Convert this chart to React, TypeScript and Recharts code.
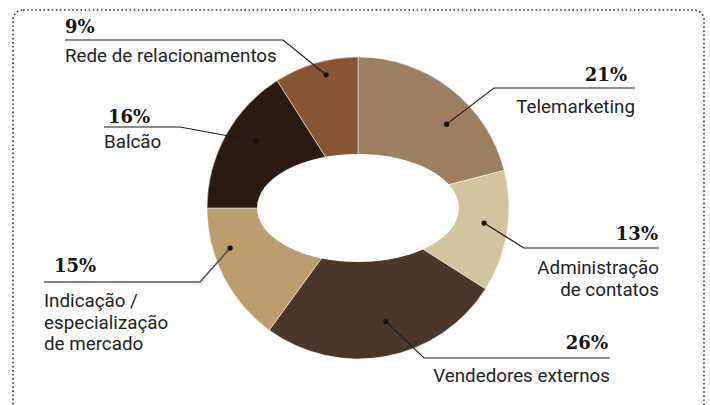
import { Cell, Pie, PieChart } from 'recharts'

const categories = [
  'Telemarketing',
  'Administração\nde contatos',
  'Vendedores externos',
  'Indicação /\nespecialização\nde mercado',
  'Balcão',
  'Rede de relacionamentos',
]
const shares = [21, 13, 26, 15, 16, 9]

const colors = ['#9d7e5f', '#d2c59d', '#4b3729', '#bc9d6d', '#2b1a0f', '#885632']

const data = categories.map((name, i) => ({ name, value: shares[i] }))

const CX = 358
const CY = 208
const OUTER = 151
const HOLE_RX = 101
const HOLE_RY = 54

// callout layout per slice: dot offset from mid angle, elbow, underline, text baselines
const callouts = [
  { shift: 8.8, r: 122, side: 'right', ex: 494, ly: 88, end: 635, px: 627, py: 81, ty: 113 },
  { shift: -2.2, r: 127, side: 'right', ex: 524, ly: 248, end: 659, px: 658, py: 240, ty: 274 },
  { shift: -3, r: 117, side: 'right', ex: 424, ly: 358, end: 610, px: 608, py: 349, ty: 382 },
  { shift: 9.6, r: 134, side: 'left', ex: 200, ly: 282, end: 44, px: 54, py: 272, ty: 307 },
  { shift: 4.5, r: 122, side: 'left', ex: 180, ly: 127, end: 104, px: 108, py: 123, ty: 148 },
  { shift: 2.7, r: 137, side: 'left', ex: 283, ly: 40, end: 65, px: 65, py: 33, ty: 62 },
]

const RAD = Math.PI / 180

const renderCallout = (props: any) => {
  const { cx, cy, midAngle, index, name, value } = props
  const c = callouts[index]
  const fromTop = (90 - midAngle + c.shift) * RAD
  const dx = cx + c.r * Math.sin(fromTop)
  const dy = cy - c.r * Math.cos(fromTop)
  const anchor = c.side === 'right' ? 'end' : 'start'
  const lines = String(name).split('\n')
  return (
    <g>
      <polyline
        points={`${dx},${dy} ${c.ex},${c.ly} ${c.end},${c.ly}`}
        fill='none'
        stroke={index === 3 ? '#555' : '#1a1a1a'}
        strokeWidth={index === 3 ? 1.6 : 1.1}
      />
      <circle cx={dx} cy={dy} r={2.6} fill='#111' />
      <text
        x={c.px}
        y={c.py}
        textAnchor={anchor}
        fontFamily='"DejaVu Serif", serif'
        fontWeight={700}
        fontSize={18}
        fill='#151515'
      >
        {value}%
      </text>
      {lines.map((line, i) => (
        <text
          key={i}
          x={c.end}
          y={c.ty + i * 21.5}
          textAnchor={anchor}
          fontFamily='Roboto, sans-serif'
          fontSize={18.8}
          fill='#222'
        >
          {line}
        </text>
      ))}
    </g>
  )
}

export default function App() {
  return (
    <div style={{ position: 'absolute', left: 0, top: 0, width: 710, height: 405, background: '#fff' }}>
      <PieChart width={710} height={405} margin={{ top: 0, right: 0, bottom: 0, left: 0 }}>
        <Pie
          data={data}
          dataKey='value'
          nameKey='name'
          cx={CX}
          cy={CY}
          innerRadius={0}
          outerRadius={OUTER}
          startAngle={90}
          endAngle={-270}
          stroke='#fff'
          strokeWidth={0.5}
          label={renderCallout}
          labelLine={false}
          isAnimationActive={false}
        >
          {data.map((d, i) => (
            <Cell key={d.name} fill={colors[i]} />
          ))}
        </Pie>
      </PieChart>
      {/* dotted frame and the oval hole sit over the chart */}
      <svg
        width={710}
        height={405}
        style={{ position: 'absolute', left: 0, top: 0, pointerEvents: 'none' }}
      >
        <rect
          x={13}
          y={10}
          width={691}
          height={430}
          rx={10}
          fill='none'
          stroke='#333'
          strokeWidth={1.6}
          strokeDasharray='1.6 2.5'
        />
        <ellipse cx={CX} cy={CY} rx={HOLE_RX} ry={HOLE_RY} fill='#fff' />
      </svg>
    </div>
  )
}
